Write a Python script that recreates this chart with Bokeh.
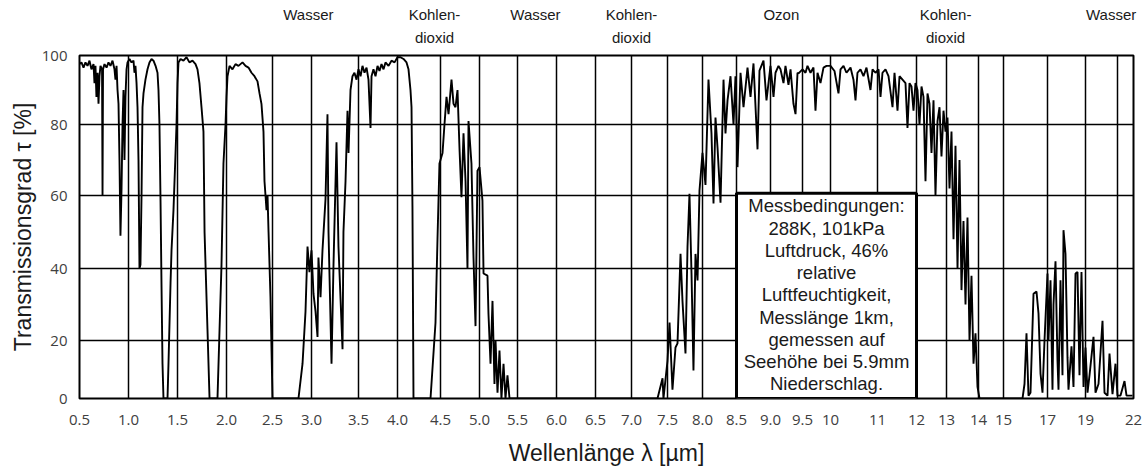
import numpy as np
from bokeh.plotting import figure
from bokeh.models import Range1d, FixedTicker, Label, LinearAxis
from bokeh.embed import file_html
from bokeh.resources import INLINE

# Atmospheric transmission spectrum, wavelength in µm and transmission in %
WAVELENGTH_UM = [
    0.500, 0.520, 0.541, 0.561, 0.582, 0.602, 0.622, 0.643, 0.653, 0.663, 0.673, 0.684, 0.694, 0.704, 0.714,
    0.730, 0.735, 0.740, 0.755, 0.776, 0.796, 0.816, 0.837, 0.857, 0.867, 0.878, 0.888, 0.898, 0.908, 0.918,
    0.929, 0.939, 0.949, 0.959, 0.969, 0.980, 0.990,
    1.010, 1.031, 1.051, 1.061, 1.071, 1.082, 1.092, 1.102, 1.112, 1.122, 1.133, 1.143, 1.153, 1.173, 1.194,
    1.214, 1.235, 1.255, 1.276, 1.296, 1.306, 1.316, 1.327, 1.337, 1.347, 1.357, 1.398, 1.408, 1.429, 1.439,
    1.459, 1.480, 1.490, 1.500,
    1.510, 1.531, 1.561, 1.592, 1.622, 1.653, 1.684, 1.704, 1.724, 1.745, 1.765, 1.776, 1.806, 1.827, 1.908,
    1.929, 1.949, 1.969, 1.990,
    2.000, 2.011, 2.033, 2.065, 2.098, 2.130, 2.174, 2.207, 2.239, 2.272, 2.304, 2.337, 2.359, 2.380, 2.402,
    2.413, 2.424, 2.435, 2.446, 2.457, 2.478, 2.500,
    2.833, 2.885, 2.923, 2.949, 2.974, 3.000, 3.021, 3.043, 3.064, 3.074, 3.096, 3.117, 3.149, 3.170, 3.181,
    3.213, 3.234, 3.266, 3.287, 3.330, 3.340, 3.362, 3.383, 3.394, 3.415, 3.436, 3.457, 3.479,
    3.500, 3.526, 3.551, 3.577, 3.603, 3.628, 3.654, 3.667, 3.692, 3.718, 3.744, 3.769, 3.795, 3.821, 3.846,
    3.885, 3.923, 3.962, 4.000,
    4.035, 4.070, 4.105, 4.128, 4.151, 4.163, 4.174, 4.186, 4.384, 4.442, 4.465, 4.488,
    4.526, 4.551, 4.577, 4.603, 4.641, 4.667, 4.692, 4.718, 4.744, 4.769, 4.795, 4.821, 4.846, 4.859, 4.897,
    4.923, 4.949, 4.974, 5.000,
    5.039, 5.053, 5.105, 5.118, 5.145, 5.171, 5.197, 5.211, 5.237, 5.263, 5.289, 5.316, 5.342, 5.368, 5.395,
    5.434,
    7.361, 7.431, 7.444, 7.500, 7.529, 7.571, 7.614, 7.643, 7.686, 7.714, 7.757, 7.786, 7.814, 7.843, 7.871,
    7.900, 7.929, 7.957, 8.000,
    8.044, 8.088, 8.132, 8.162, 8.191, 8.221, 8.265, 8.309, 8.338, 8.368, 8.412, 8.456, 8.485, 8.515, 8.559,
    8.603, 8.662, 8.706, 8.750, 8.809, 8.838, 8.897, 8.941, 9.000,
    9.047, 9.078, 9.125, 9.156, 9.203, 9.234, 9.281, 9.313, 9.359, 9.391, 9.422, 9.438, 9.500,
    9.554, 9.589, 9.643, 9.696, 9.732, 9.768, 9.821, 9.875, 9.929, 10.000,
    10.085, 10.170, 10.213, 10.277, 10.340, 10.426, 10.489, 10.532, 10.574, 10.638, 10.702, 10.766, 10.851,
    10.894, 10.957,
    11.026, 11.077, 11.128, 11.205, 11.282, 11.385, 11.436, 11.513, 11.564, 11.641, 11.718, 11.769, 11.821,
    11.872, 11.923, 11.974,
    12.033, 12.100, 12.167, 12.233, 12.300, 12.367, 12.433, 12.500, 12.567, 12.633, 12.700, 12.767, 12.833,
    12.900, 12.967,
    13.031, 13.094, 13.156, 13.219, 13.281, 13.344, 13.406, 13.469, 13.531, 13.594, 13.656, 13.719, 13.781,
    13.844, 13.906, 13.969, 14.040,
    15.773, 15.864, 15.955, 16.045, 16.136, 16.227, 16.364, 16.500, 16.591, 16.682, 16.773, 16.864, 17.000,
    17.053, 17.158, 17.263, 17.316, 17.421, 17.526, 17.579, 17.684, 17.789, 17.842, 17.947, 18.053, 18.105,
    18.263, 18.368, 18.474, 18.579, 18.684, 18.789, 18.895, 19.000,
    19.125, 19.250, 19.500, 19.625, 19.813, 20.063, 20.188, 20.375, 20.500, 20.688, 20.875, 21.000, 21.188,
    21.438, 21.563, 21.938,
]

TRANSMISSION_PCT = [
    97.5, 98, 96.5, 98, 97, 98.5, 96, 97.5, 92, 97, 88, 95, 86, 94, 97,
    96, 60, 96, 97.5, 96.5, 98, 97, 98.5, 96, 93, 97, 90, 86, 70, 49,
    62, 80, 90, 70, 88, 96, 98,
    99, 98, 98.5, 95, 97, 92, 85, 70, 40, 41, 60, 85, 89, 93, 96,
    98, 99, 98.5, 97, 95, 90, 80, 58, 35, 12, 0, 0, 12, 36, 45,
    56, 72, 80, 92,
    98, 99, 98.5, 99.5, 98, 98.5, 97.5, 96, 92, 85, 78, 50, 23, 0, 0,
    23, 41, 69, 80,
    88, 94, 97, 96, 97.5, 97, 98, 97, 96.5, 95, 94, 92.5, 89, 86, 78,
    64, 60, 56, 60, 50, 32, 0,
    0, 12, 28, 46, 39, 45, 33, 28, 21, 43, 32, 45, 59, 83, 50,
    12, 41, 75, 46, 17, 50, 64, 84, 72, 90, 94, 95, 93,
    96, 94, 97, 95, 96.5, 93, 79, 94, 96, 94, 97, 95.5, 97.5, 96, 98,
    97, 98.5, 98, 99.5,
    99.5, 99, 98, 96, 90, 85, 57, 0, 0, 25, 48, 69,
    72, 80, 88, 83, 93, 86, 85, 90, 73, 59.5, 77.5, 64, 40, 81, 69,
    43, 24, 67, 68,
    58.6, 38.6, 38, 27.5, 12, 31, 5, 20, 2, 16.5, 0, 12, 0, 8, 0,
    0,
    0, 7, 0, 13, 25, 3, 17.6, 19, 44, 31, 15.5, 46, 60.5, 38.6, 9.7,
    44, 36.7, 61.4, 72,
    63, 93, 77.5, 57.8, 82, 73.5, 58, 93, 77.5, 87, 94, 80, 94, 68, 95,
    85, 96.5, 88, 97.7, 73, 95.6, 98.5, 87, 97,
    88, 95, 97, 96, 92, 97, 91.5, 96, 86, 83, 95, 94.8, 96,
    95, 97, 95, 96.5, 84, 95, 92, 96.5, 97, 97,
    95.5, 89, 96, 97, 95, 96.5, 93, 87, 95, 96, 94, 96.5, 90,
    96, 95,
    96, 88, 95, 96, 94, 85, 95, 84, 94, 93, 92, 79, 92,
    91, 84, 92,
    90, 80, 91, 88, 64, 89, 86, 72, 87, 60, 81, 85, 71,
    84, 78,
    82, 62, 78, 48, 74, 40, 70, 34, 53, 30, 54, 20, 38,
    12, 22, 4, 0,
    0, 0, 5, 22, 1, 2, 33, 33.6, 27.5, 8.6, 2, 20, 38.6,
    20, 36.7, 3, 30, 42, 13, 3, 36.7, 8, 50.5, 44, 14, 3,
    18, 4, 38.6, 39, 8, 39, 4, 17.6,
    2, 8, 21, 2, 5, 25.5, 2, 1, 15.5, 1.5, 12, 1, 1,
    6, 1, 1,
]

# Wavelength ticks (the axis is not linear in wavelength)
X_TICKS = [0.5, 1.0, 1.5, 2.0, 2.5, 3.0, 3.5, 4.0, 4.5, 5.0, 5.5, 6.0, 6.5, 7.0, 7.5,
           8.0, 8.5, 9.0, 9.5, 10, 11, 12, 13, 14, 15, 17, 19, 21, 22]
X_TICK_LABELS = ["0.5", "1.0", "1.5", "2.0", "2.5", "3.0", "3.5", "4.0", "4.5", "5.0", "5.5",
                 "6.0", "6.5", "7.0", "7.5", "8.0", "8.5", "9.0", "9.5", "10", "11", "12", "13",
                 "14", "15", "17", "19", "", "22"]
Y_TICKS = [0, 20, 40, 60, 80, 100]
Y_TICK_LABELS = ["0", "20", "40", "60", "80", "100"]

# Absorbing species named above the plot
BAND_NAMES = ["Wasser", "Kohlen-\ndioxid", "Wasser", "Kohlen-\ndioxid", "Ozon", "Kohlen-\ndioxid", "Wasser"]
BAND_CENTER_UM = [2.96, 4.43, 5.73, 7.0, 9.17, 12.97, 20.6]

NOTE_LINES = ["Messbedingungen:", "288K, 101kPa", "Luftdruck, 46%", "relative",
              "Luftfeuchtigkeit,", "Messlänge 1km,", "gemessen auf",
              "Seehöhe bei 5.9mm", "Niederschlag."]
NOTE_SPAN_UM = [8.5, 12.0]
NOTE_SPAN_PCT = [0, 60.6]

# Axis layout: where each tick sits along the frame (frame units)
X_TICK_POS = [0, 49, 98, 147, 193, 232, 279, 318, 361, 400, 438, 477, 516, 552, 588,
              623, 657, 691, 723, 751, 798, 837, 867, 899, 924, 968, 1006, 1038, 1054]
Y_TICK_POS = [0, 58, 130, 203, 274, 343]


def to_x(v):
    return np.interp(v, X_TICKS, X_TICK_POS)


def to_y(v):
    return np.interp(v, Y_TICKS, Y_TICK_POS)


p = figure(width=1148, height=468, output_backend="svg", toolbar_location=None,
           x_range=Range1d(X_TICK_POS[0], X_TICK_POS[-1]),
           y_range=Range1d(Y_TICK_POS[0], Y_TICK_POS[-1]),
           min_border_left=79, min_border_right=15, min_border_top=55, min_border_bottom=70)
p.background_fill_color = "white"
p.border_fill_color = "white"
p.outline_line_color = "black"
p.outline_line_width = 2

xt = FixedTicker(ticks=X_TICK_POS)
yt = FixedTicker(ticks=Y_TICK_POS)
p.xaxis.ticker = xt
p.yaxis.ticker = yt
p.xgrid.ticker = xt
p.ygrid.ticker = yt
p.xaxis.major_label_overrides = {pos: lab for pos, lab in zip(X_TICK_POS, X_TICK_LABELS)}
p.yaxis.major_label_overrides = {pos: lab for pos, lab in zip(Y_TICK_POS, Y_TICK_LABELS)}

for g in (p.xgrid, p.ygrid):
    g.grid_line_color = "black"
    g.grid_line_width = 1.5
    g.grid_line_alpha = 1.0

for ax in (p.xaxis, p.yaxis):
    ax.axis_line_color = None
    ax.major_tick_line_color = None
    ax.minor_tick_line_color = None
    ax.major_label_text_font = "Open Sans"
    ax.major_label_text_color = "#404040"
    ax.axis_label_text_font = "Liberation Sans"
    ax.axis_label_text_font_style = "normal"
    ax.axis_label_text_font_size = "23px"
    ax.axis_label_text_color = "#1a1a1a"

p.xaxis.major_label_text_font_size = "15px"
p.yaxis.major_label_text_font_size = "15px"
p.xaxis.major_label_standoff = 10
p.yaxis.major_label_standoff = 6
p.xaxis.axis_label = "Wellenlänge λ [µm]"
p.yaxis.axis_label = "Transmissionsgrad τ [%]"
p.xaxis.axis_label_standoff = 12
p.yaxis.axis_label_standoff = 3

# absorber names along the top edge
band_pos = [float(v) for v in to_x(BAND_CENTER_UM)]
band_axis = LinearAxis(ticker=FixedTicker(ticks=band_pos),
                       major_label_overrides={pos: (name if "\n" in name else name + "\n ")
                                              for pos, name in zip(band_pos, BAND_NAMES)},
                       axis_line_color=None, major_tick_line_color=None,
                       minor_tick_line_color=None, major_label_standoff=4,
                       major_label_text_font="Liberation Sans",
                       major_label_text_font_size="15px",
                       major_label_text_color="#1a1a1a",
                       major_label_text_line_height=1.3)
p.add_layout(band_axis, "above")

# transmission curve
p.line(to_x(WAVELENGTH_UM), to_y(TRANSMISSION_PCT), line_color="black", line_width=1.9)

# measurement conditions box
box_left, box_right = to_x(NOTE_SPAN_UM)
box_bottom, box_top = to_y(NOTE_SPAN_PCT)
p.quad(left=[box_left], right=[box_right], bottom=[box_bottom], top=[box_top],
       fill_color="white", line_color="black", line_width=3)
p.add_layout(Label(x=(box_left + box_right) / 2, y=box_top, y_offset=-2,
                   text="\n".join(NOTE_LINES), text_align="center", text_baseline="top",
                   text_font="Liberation Sans", text_font_size="18.5px", text_color="#1a1a1a",
                   text_line_height=1.06))

open("out.html", "w").write(file_html(p, INLINE))
